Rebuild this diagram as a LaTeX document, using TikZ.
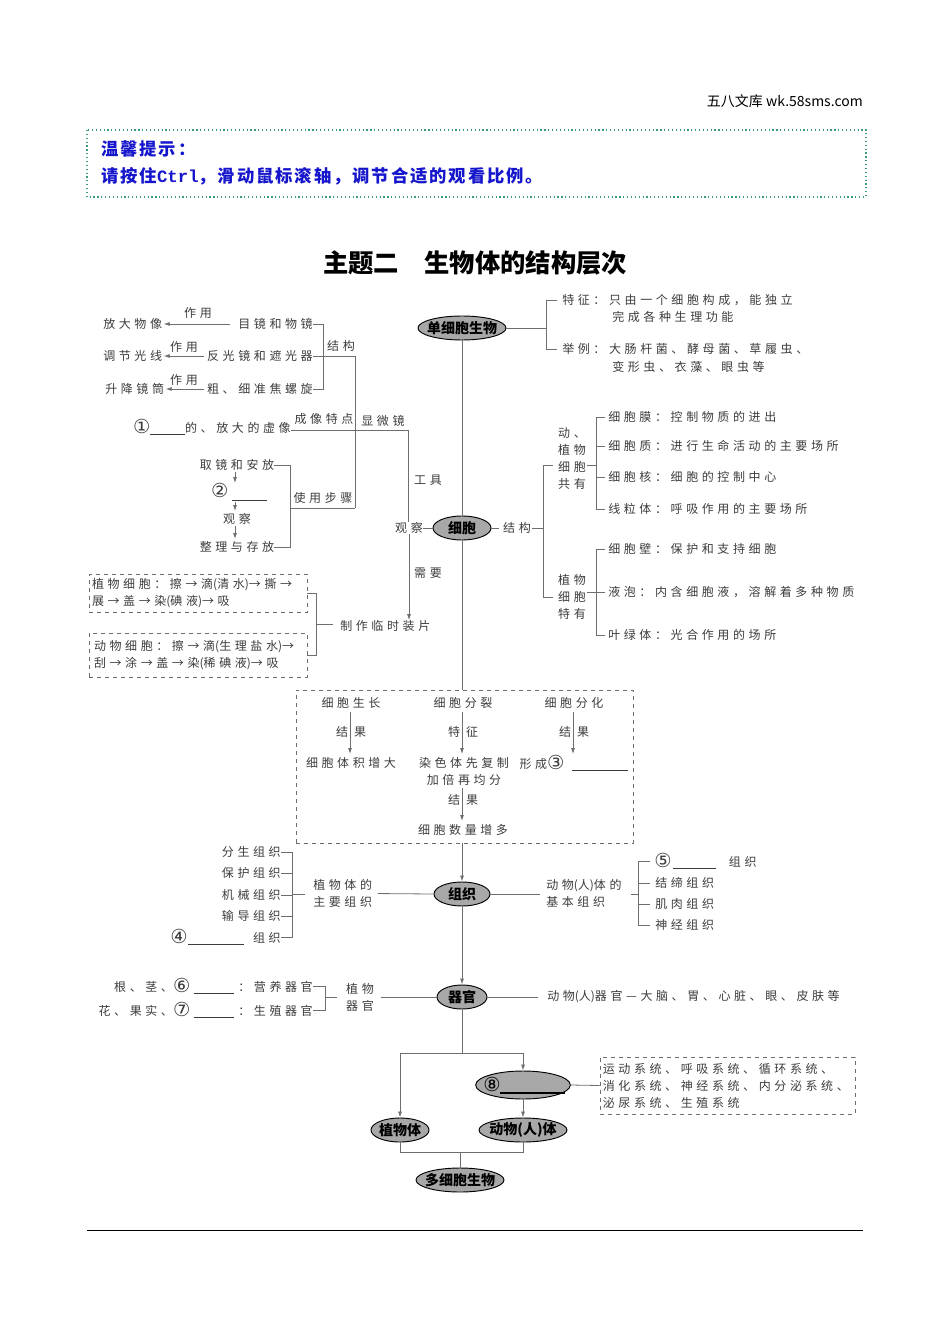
\documentclass[tikz,border=0pt]{standalone}
\usepackage{fontspec}
\setmainfont{Noto Sans CJK SC}
\newfontfamily\cn[LetterSpace=30]{Noto Sans CJK SC}
\newfontfamily\cnn{Noto Sans CJK SC}
\newfontfamily\cnb[LetterSpace=11]{Noto Sans CJK SC}
\newfontfamily\mono{Liberation Mono}
\newfontfamily\circf{DejaVu Sans}
\newcommand\cnum[1]{\raisebox{-1.2pt}{\circf\fontsize{14.5}{15}\selectfont #1}}
\newcommand\lp{{\cnn(}}
\newcommand\rp{{\cnn)}}
\usetikzlibrary{shapes.geometric,arrows.meta}
\definecolor{txt}{HTML}{3C3C3C}
\definecolor{lc}{HTML}{6E6E6E}
\definecolor{ellgray}{HTML}{A8A8A8}
\definecolor{tipblue}{HTML}{1515CC}
\definecolor{tipc}{HTML}{3A9A7A}
\tikzset{
  every node/.style={inner sep=0pt, text=txt},
  t/.style={font=\cn\fontsize{9}{12.75}\selectfont},
  ln/.style={draw=lc, line width=0.6pt},
  arr/.style={ln, -{Latex[length=4.5pt,width=3pt]}},
  ell/.style={ellipse, draw=black, line width=0.7pt, fill=ellgray, inner xsep=-6pt, inner ysep=0pt,
    minimum height=18pt, font=\cnn\bfseries\fontsize{10.5}{13}\selectfont, text=black},
  dbox/.style={t, draw=lc, dashed, line width=0.6pt, align=left},
}
\begin{document}
\begin{tikzpicture}[x=0.75pt,y=-0.75pt]
\useasboundingbox (0,0) rectangle (950,1344);

% header
\node[anchor=east, font=\cnn\fontsize{10.5}{12}\selectfont, text=black] (hdr) at (863,101) {五八文库 wk.58sms.com};
\draw[draw=tipc, dotted, line width=0.9pt] (87,130) rectangle (866,197);
\node[anchor=west, font=\cnb\bfseries\fontsize{13}{15}\selectfont, text=tipblue] (tip1) at (101,149) {温馨提示：};
\node[anchor=west, font=\cnb\bfseries\fontsize{13}{15}\selectfont, text=tipblue] (tip2) at (101,176) {请按住{\mono\bfseries Ctrl}，滑动鼠标滚轴，调节合适的观看比例。};

% title
\node[font=\cnn\bfseries\fontsize{19}{22}\selectfont, text=black] (title) at (475,263) {主题二　生物体的结构层次};

% microscope structure
\node[t, anchor=west] (fd) at (103,324) {放大物像};
\node[t, anchor=east] (mj) at (313,324) {目镜和物镜};
\node[t, anchor=west] (tj) at (103,356) {调节光线};
\node[t, anchor=east] (fg) at (313,356) {反光镜和遮光器};
\node[t, anchor=west] (sj) at (105,389) {升降镜筒};
\node[t, anchor=east] (cz) at (313,389) {粗、细准焦螺旋};
\draw[arr, shorten <=6pt, shorten >=1pt] (mj.west) -- (fd.east);
\draw[arr, shorten <=2pt, shorten >=1pt] (fg.west) -- (tj.east);
\draw[arr, shorten <=2pt, shorten >=1pt] (cz.west) -- (sj.east);
\node[t] (zy1) at (198,313) {作用};
\node[t] (zy2) at (184,347) {作用};
\node[t] (zy3) at (184,380) {作用};
\draw[ln] (mj.east) -- (323,324) -- (323,389) -- (cz.east);
\coordinate (jgc) at (355,356);
\coordinate (sbc) at (355,508);
\draw[ln] (fg.east) -- (jgc) -- (sbc);
\node[t] (jgl) at (341,346) {结构};

% imaging
\node[t, anchor=east] (xx) at (291,427) {\cnum{①}\rule[-2pt]{26pt}{0.5pt}的、放大的虚像};
\node[t] (cxtd) at (324,419) {成像特点};
\node[t] (xwj) at (383,421) {显微镜};
\coordinate (xwc) at (408,430);
\node[t] (gj) at (428,480) {工具};
\node[t] (gc) at (409,528) {观察};
\node[t] (xy) at (428,573) {需要};
\draw[ln] (xx.east |- xwc) -- (xwc) -- (xwc |- gc.north);

% steps
\node[t] (s1) at (237,465) {取镜和安放};
\node[t] (s2) at (239,492) {\cnum{②}\hspace{3pt}\rule[-3pt]{26pt}{0.5pt}};
\node[t] (s3) at (237,519) {观察};
\node[t] (s4) at (237,547) {整理与存放};
\draw[arr] (235,472) -- (235,483);
\draw[arr] (235,502) -- (235,511);
\draw[arr] (235,526) -- (235,539);
\draw[ln] (s1.east) -- (290,465) -- (290,547) -- (s4.east);
\draw[ln] (290,508) -- (sbc);
\node[t] (sybz) at (323,498) {使用步骤};

% temporary slides
\node[dbox, minimum width=163.5pt, minimum height=29pt, text width=159pt] (pbox) at (198,593.5) {植物细胞：擦→滴\lp 清水\rp→撕→\\展→盖→染\lp 碘液\rp→吸};
\node[dbox, minimum width=163.5pt, minimum height=33pt, text width=156pt] (abox) at (198,655) {动物细胞：擦→滴\lp 生理盐水\rp→\\刮→涂→盖→染\lp 稀碘液\rp→吸};
\draw[ln] (pbox.east) -- (316,593.5) -- (316,655) -- (abox.east);
\node[t, anchor=west] (zz) at (340,626) {制作临时装片};
\draw[ln] (316,624) -- (333,624);
\draw[arr] (gc.south) -- (gc.south |- zz.north);

% single-celled
\node[ell, minimum width=66pt] (dxb) at (462,328) {单细胞生物};
\node[ell, minimum width=43.5pt] (cell) at (462,528) {细胞};
\draw[ln] (dxb.south) -- (cell.north);
\draw[ln] (gc.east) -- (cell.west);
\node[t, anchor=west] (tz1) at (562,300) {特征：只由一个细胞构成，能独立};
\node[t, anchor=west] (tz2) at (612,317) {完成各种生理功能};
\node[t, anchor=west] (jl1) at (562,349) {举例：大肠杆菌、酵母菌、草履虫、};
\node[t, anchor=west] (jl2) at (612,367) {变形虫、衣藻、眼虫等};
\draw[ln] (dxb.east) -- (546,328);
\draw[ln, shorten <=4pt] (tz1.west) -- (546,300) -- (546,349) -- (557,349);

% cell structure
\node[t] (jg2) at (517,528) {结构};
\draw[ln, shorten >=3pt] (cell.east) -- (jg2.west);
\draw[ln, shorten <=1pt] (jg2.east) -- (543,528);
\draw[ln] (553,465) -- (543,465) -- (543,597) -- (553,597);
\node[t, align=left] (gy) at (572,458.5) {动、\\植物\\细胞\\共有};
\node[t, align=left] (ty) at (572,597) {植物\\细胞\\特有};
\node[t, anchor=west] (m1) at (608,417) {细胞膜：控制物质的进出};
\node[t, anchor=west] (m2) at (608,446) {细胞质：进行生命活动的主要场所};
\node[t, anchor=west] (m3) at (608,477) {细胞核：细胞的控制中心};
\node[t, anchor=west] (m4) at (608,509) {线粒体：呼吸作用的主要场所};
\draw[ln, shorten <=2pt, shorten >=2pt] (m1.west) -- (596,417) -- (596,509) -- (m4.west);
\draw[ln, shorten >=2pt] (596,446) -- (m2.west);
\draw[ln, shorten >=2pt] (596,477) -- (m3.west);
\draw[ln] (587,465) -- (596,465);
\node[t, anchor=west] (p1) at (608,549) {细胞壁：保护和支持细胞};
\node[t, anchor=west] (p2) at (608,592) {液泡：内含细胞液，溶解着多种物质};
\node[t, anchor=west] (p3) at (608,635) {叶绿体：光合作用的场所};
\draw[ln, shorten <=2pt, shorten >=2pt] (p1.west) -- (596,549) -- (596,635) -- (p3.west);
\draw[ln, shorten >=2pt] (587,592) -- (p2.west);

% division box
\node[draw=lc, dashed, line width=0.6pt, minimum width=252.75pt, minimum height=114.75pt] (divbox) at (464.5,766.5) {};
\draw[ln] (cell.south) -- (cell.south |- divbox.north);
\node[t] (cg) at (351,703) {细胞生长};
\node[t] (cgr) at (351,763) {细胞体积增大};
\node[t] (fl) at (463,703) {细胞分裂};
\node[t, align=center] (flr) at (464,771.5) {染色体先复制\\加倍再均分};
\node[t] (sl) at (463,830) {细胞数量增多};
\node[t] (fh) at (574,703) {细胞分化};
\node[t] (fhr) at (574,763) {形成\cnum{③}\hspace{6pt}\rule[-2pt]{42pt}{0.5pt}};
\draw[arr] (350,712) -- (350,754);
\draw[arr] (462,712) -- (462,754);
\draw[arr] (573,712) -- (573,754);
\draw[arr] (462,788) -- (462,821);
\node[t] (k1a) at (342,732) {结};
\node[t] (k1b) at (360,732) {果};
\node[t] (k2a) at (454,732) {特};
\node[t] (k2b) at (472,732) {征};
\node[t] (k3a) at (565,732) {结};
\node[t] (k3b) at (583,732) {果};
\node[t] (k4a) at (454,800) {结};
\node[t] (k4b) at (472,800) {果};

% tissue
\node[ell, minimum width=42pt] (tissue) at (462,894) {组织};
\draw[arr] (cell.south |- divbox.south) -- (tissue.north);
\node[t, anchor=east] (z1) at (281,852) {分生组织};
\node[t, anchor=east] (z2) at (281,873) {保护组织};
\node[t, anchor=east] (z3) at (281,895) {机械组织};
\node[t, anchor=east] (z4) at (281,916) {输导组织};
\node[t, anchor=east] (z5) at (281,937) {\cnum{④}\rule[-2pt]{42pt}{0.5pt}\hspace{7pt}组织};
\draw[ln] (z1.east) -- (292,852) -- (292,937) -- (z5.east);
\draw[ln] (z2.east) -- (292,873);
\draw[ln] (z3.east) -- (292,895);
\draw[ln] (z4.east) -- (292,916);
\draw[ln] (292,894) -- (305,894);
\node[t, align=left, anchor=west] (zwzz) at (313,893.5) {植物体的\\主要组织};
\draw[ln, shorten <=4pt] (zwzz.east) -- (tissue.west);
\draw[ln] (tissue.east) -- (540,894);
\node[t, align=left, anchor=west] (dwzz) at (546,893.5) {动物\lp 人\rp 体的\\基本组织};
\draw[ln] (631,894) -- (638,894);
\node[t, anchor=west] (a1) at (654,861) {\cnum{⑤}\hspace{1pt}\rule[-2pt]{32pt}{0.5pt}\hspace{10pt}组织};
\node[t, anchor=west] (a2) at (655,883) {结缔组织};
\node[t, anchor=west] (a3) at (655,904) {肌肉组织};
\node[t, anchor=west] (a4) at (655,925) {神经组织};
\draw[ln, shorten <=3pt] (a1.west) -- (638,861) -- (638,925) -- (650,925);
\draw[ln] (638,883) -- (650,883);
\draw[ln] (638,904) -- (650,904);

% organ
\node[ell, minimum width=37.5pt] (organ) at (462,997) {器官};
\draw[arr] (tissue.south) -- (organ.north);
\node[t, anchor=east] (o1) at (313,986) {根、茎、\cnum{⑥}\hspace{3pt}\rule[-2pt]{30pt}{0.5pt}\hspace{3pt}：营养器官};
\node[t, anchor=east] (o2) at (313,1010) {花、果实、\cnum{⑦}\hspace{3pt}\rule[-2pt]{30pt}{0.5pt}\hspace{3pt}：生殖器官};
\draw[ln] (o1.east) -- (325,986) -- (325,1010) -- (o2.east);
\draw[ln] (325,997) -- (337,997);
\node[t, align=left] (zwqg) at (360,997) {植物\\器官};
\draw[ln, shorten <=5pt] (zwqg.east) -- (organ.west);
\node[t, anchor=west] (dwqg) at (547,997) {动物\lp 人\rp 器官—大脑、胃、心脏、眼、皮肤等};
\draw[ln, shorten >=7pt] (organ.east) -- (dwqg.west);

% systems and organisms
\node[ell, minimum width=43.5pt] (zwt) at (400,1130) {植物体};
\node[ell, minimum width=71pt, minimum height=21pt] (sys) at (523,1085) {};
\node[text=black] (sysn) at (492,1084) {\cnum{⑧}};
\coordinate (sysa) at (500,1093);
\coordinate (sysb) at (565,1093);
\draw[black, line width=0.8pt] (sysa) -- (sysb);
\node[ell, minimum width=66pt] (dwt) at (523,1130) {动物(人)体};
\node[ell, minimum width=66pt] (dxb2) at (460,1180) {多细胞生物};
\coordinate (brc) at (462,1053);
\draw[ln] (organ.south) -- (brc);
\draw[arr] (brc) -| (zwt.north);
\draw[arr] (brc) -| (sys.north);
\draw[arr] (sys.south) -- (dwt.north);
\node[dbox, minimum width=191.25pt, minimum height=42.75pt, text width=187pt] (sysbox) at (727.5,1085.5) {运动系统、呼吸系统、循环系统、\\消化系统、神经系统、内分泌系统、\\泌尿系统、生殖系统};
\draw[ln] (sys.east) -- (sysbox.west);
\coordinate (mjc) at (460,1152);
\draw[ln] (zwt.south) -- (zwt.south |- mjc) -- (dwt.south |- mjc) -- (dwt.south);
\draw[ln] (mjc) -- (dxb2.north);

% footer rule
\draw[black, line width=0.6pt] (87,1230) -- (863,1230);
\end{tikzpicture}
\end{document}
